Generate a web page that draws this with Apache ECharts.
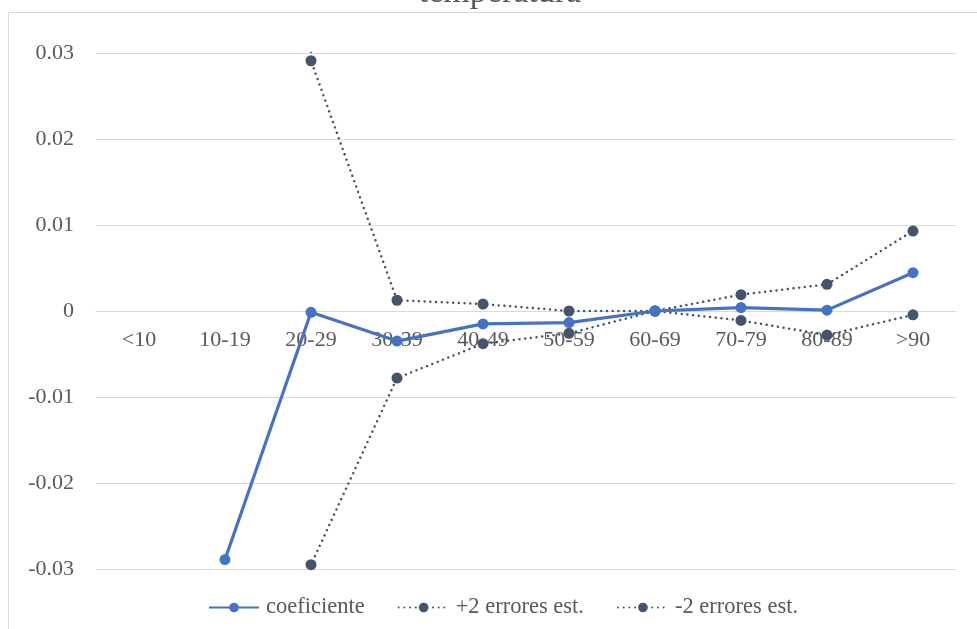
<!DOCTYPE html>
<html>
<head>
<meta charset="utf-8">
<script src="https://cdn.jsdelivr.net/npm/echarts@6/dist/echarts.min.js"></script>
<style>html,body{margin:0;padding:0;background:#fff;}#c{width:977px;height:629px;}</style>
</head>
<body>
<div id="c"></div>
<script>
var categories = ['<10', '10-19', '20-29', '30-39', '40-49', '50-59', '60-69', '70-79', '80-89', '>90'];
var coeficiente = [null, -0.0289, -0.00015, -0.0035, -0.0015, -0.00135, 0, 0.0004, 0.0001, 0.00445];
var plus2 = [null, 1.2, 0.0291, 0.00125, 0.0008, 0.0000, 0, 0.0019, 0.0031, 0.0093];
var minus2 = [null, -1.26, -0.0295, -0.0078, -0.0038, -0.0026, 0, -0.0011, -0.0028, -0.00045];
var seriesNames = ['coeficiente', '+2 errores est.', '-2 errores est.'];
var titleText = 'temperatura';

var FONT = '"Liberation Serif", "Times New Roman", serif';
var GRID_TOP = 53, GRID_BOTTOM = 60, H = 629;
var gridHeight = H - GRID_TOP - GRID_BOTTOM;
var chart = echarts.init(document.getElementById('c'));
chart.setOption({
  animation: false,
  backgroundColor: '#fff',
  graphic: [
    { type: 'rect', shape: { x: 8.5, y: 12.5, width: 1200, height: 1200 }, style: { fill: 'none', stroke: '#d9d9d9', lineWidth: 1 }, silent: true },
    { type: 'text', x: 500, y: 10, style: { text: titleText, font: '34px ' + FONT, fill: '#595959', textAlign: 'center', textVerticalAlign: 'bottom' }, silent: true }
  ],
  grid: { left: 96, right: 21, top: GRID_TOP, bottom: GRID_BOTTOM, containLabel: false },
  legend: {
    left: 203, top: 591,
    itemWidth: 50, itemHeight: 12, itemGap: 33,
    textStyle: { color: '#595959', fontSize: 22.5, fontFamily: FONT, padding: [0, 0, 0, 2] },
    data: seriesNames
  },
  xAxis: {
    type: 'category',
    data: categories,
    boundaryGap: true,
    position: 'bottom',
    offset: -gridHeight / 2,
    axisLine: { onZero: false, lineStyle: { color: '#d9d9d9', width: 1 } },
    axisTick: { show: false },
    axisLabel: { color: '#595959', fontSize: 22, fontFamily: FONT, margin: 18 }
  },
  yAxis: {
    type: 'value',
    min: -0.03, max: 0.03, interval: 0.01,
    axisLine: { show: false },
    axisTick: { show: false },
    splitLine: { lineStyle: { color: '#d9d9d9', width: 1 } },
    axisLabel: {
      color: '#595959', fontSize: 22, fontFamily: FONT, margin: 22,
      formatter: function (v) { return String(parseFloat(v.toFixed(2))); }
    }
  },
  series: [
    {
      name: seriesNames[0], type: 'line', data: coeficiente, clip: true,
      symbol: 'circle', symbolSize: 11, connectNulls: false,
      lineStyle: { color: '#4472C4', width: 3.2 },
      itemStyle: { color: '#4472C4' }, z: 3
    },
    {
      name: seriesNames[1], type: 'line', data: plus2, clip: true,
      symbol: 'circle', symbolSize: 11,
      lineStyle: { color: '#44546A', width: 2.5, type: [0.01, 5.7], cap: 'round' },
      itemStyle: { color: '#44546A' }, z: 2
    },
    {
      name: seriesNames[2], type: 'line', data: minus2, clip: true,
      symbol: 'circle', symbolSize: 11,
      lineStyle: { color: '#44546A', width: 2.5, type: [0.01, 5.7], cap: 'round' },
      itemStyle: { color: '#44546A' }, z: 2
    }
  ]
});
</script>
</body>
</html>
